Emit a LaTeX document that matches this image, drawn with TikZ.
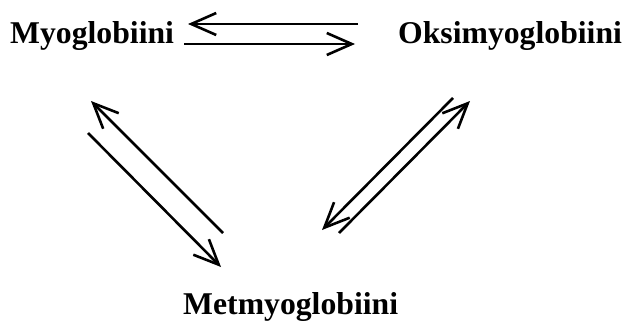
\documentclass[tikz,border=0pt]{standalone}
\usepackage{fontspec}
\setmainfont{Liberation Serif}
\usetikzlibrary{arrows.meta}
\begin{document}
\begin{tikzpicture}[x=1pt,y=-1pt,
  label/.style={inner sep=0pt,anchor=base west,
    font=\fontsize{31.7}{36}\selectfont\bfseries},
  react/.style={line width=2.6pt,line cap=butt,
    -{Straight Barb[length=25pt,width=22pt,line join=miter]}}]
  \useasboundingbox (0,0) rectangle (624,324);
  % species
  \node[label] (mb)  at (10,43)  {Myoglobiini};
  \node[label] (omb) at (398,43) {Oksimyoglobiini};
  \node[label] (mmb) at (183,314) {Metmyoglobiini};
  % end points of the equilibrium arrows
  \coordinate (t1s) at (358,24);  \coordinate (t1e) at (188,24);
  \coordinate (t2s) at (184,44);  \coordinate (t2e) at (355,44);
  \coordinate (l1s) at (223,233); \coordinate (l1e) at (91,101);
  \coordinate (l2s) at (88,133);  \coordinate (l2e) at (221,267);
  \coordinate (r1s) at (453,98);  \coordinate (r1e) at (322,230);
  \coordinate (r2s) at (339,233); \coordinate (r2e) at (470,101);
  % Myoglobiini <=> Oksimyoglobiini
  \draw[react] (t1s) -- (t1e);
  \draw[react] (t2s) -- (t2e);
  % Myoglobiini <=> Metmyoglobiini
  \draw[react] (l1s) -- (l1e);
  \draw[react] (l2s) -- (l2e);
  % Oksimyoglobiini <=> Metmyoglobiini
  \draw[react] (r1s) -- (r1e);
  \draw[react] (r2s) -- (r2e);
\end{tikzpicture}
\end{document}
